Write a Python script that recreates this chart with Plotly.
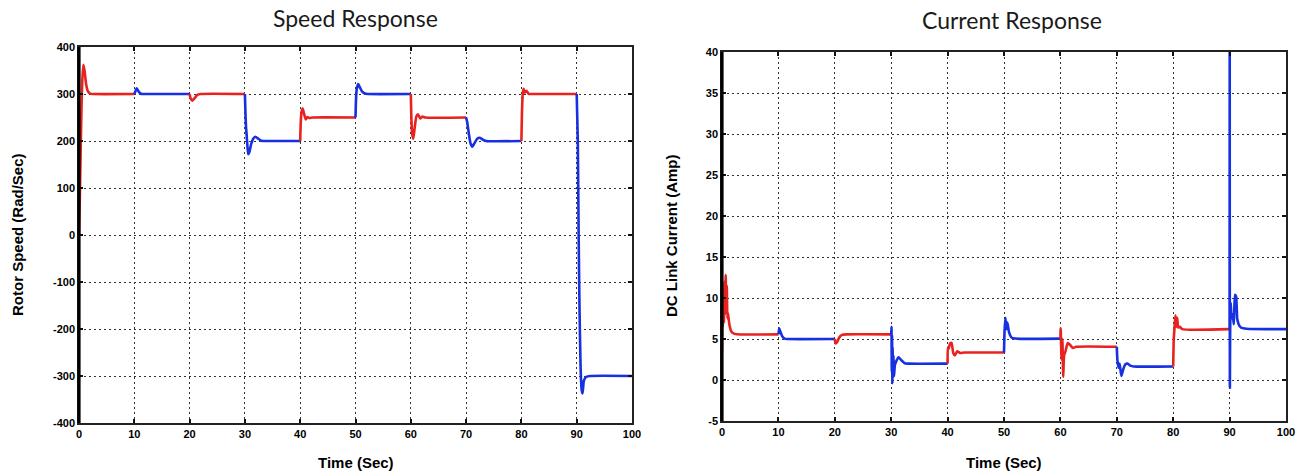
import plotly.graph_objects as go

# ---------------- data ----------------
segment_bounds = [0, 10, 20, 30, 40, 50, 60, 70, 80, 90, 100]
segment_colors = ["red", "blue", "red", "blue", "red", "blue", "red", "blue", "red", "blue"]

speed_time = [0, 0.15, 0.3, 0.45, 0.6, 0.8, 1.0, 1.3, 1.6, 2.0, 2.5, 10,
              10.2, 10.45, 10.8, 11.2, 11.6, 20,
              20.2, 20.5, 20.9, 21.4, 22, 30,
              30.1, 30.2, 30.3, 30.45, 30.6, 30.8, 31.1, 31.5, 31.9, 32.4, 33, 33.5, 40,
              40.1, 40.25, 40.45, 40.7, 41.0, 41.3, 41.7, 42.2, 50,
              50.1, 50.25, 50.5, 50.8, 51.2, 51.7, 52.2, 60,
              60.1, 60.25, 60.45, 60.7, 61.0, 61.3, 61.7, 62.1, 62.6, 70,
              70.2, 70.5, 70.8, 71.1, 71.5, 72.0, 72.5, 73.0, 73.6, 80,
              80.1, 80.25, 80.4, 80.6, 80.9, 81.3, 81.8, 90,
              90.2, 90.35, 90.5, 90.7, 90.9, 91.05, 91.3, 91.7, 92.5, 100]
speed_value = [0, 80, 180, 270, 330, 362, 350, 320, 306, 301, 300, 300,
               306, 312, 305, 300.5, 300, 300,
               290, 286, 291, 298, 300, 300,
               260, 230, 215, 190, 172, 176, 192, 205, 209, 205, 200.5, 200, 200,
               240, 262, 269, 258, 246, 251, 249, 250, 250,
               290, 312, 321, 314, 305, 301, 300, 300,
               250, 215, 205, 228, 252, 257, 248, 252, 250, 250,
               240, 215, 195, 188, 195, 205, 207, 203, 200, 200,
               260, 300, 311, 303, 307, 300.5, 300, 300,
               200, 0, -150, -280, -330, -337, -310, -302, -300, -300]

current_time = [0, 0.05, 0.15, 0.25, 0.35, 0.45, 0.55, 0.65, 0.75, 0.85, 0.95, 1.05, 1.3, 1.6, 2.0, 2.6, 10,
                10.15, 10.4, 10.7, 11.1, 11.5, 20,
                20.15, 20.4, 20.8, 21.3, 22, 30,
                30.05, 30.1, 30.15, 30.2, 30.25, 30.3, 30.4, 30.5, 30.65, 30.9, 31.3, 31.8, 32.4, 33, 40,
                40.05, 40.2, 40.4, 40.7, 41.0, 41.3, 41.7, 42.2, 43, 50,
                50.1, 50.25, 50.4, 50.6, 50.9, 51.3, 52, 60,
                60.05, 60.2, 60.35, 60.5, 60.65, 60.9, 61.3, 61.7, 62.2, 62.8, 70,
                70.1, 70.3, 70.5, 70.8, 71.1, 71.5, 71.9, 72.4, 73, 80,
                80.1, 80.25, 80.4, 80.55, 80.7, 80.9, 81.2, 81.6, 90,
                90.02, 90.05, 90.1, 90.2, 90.35, 90.55, 90.75, 90.95, 91.15, 91.35, 91.6, 92.0, 93, 100]
current_value = [3.5, 10.5, 6.5, 11, 7, 12, 8, 12.8, 9, 11.5, 7.5, 8.2, 6.8, 6.0, 5.7, 5.57, 5.57,
                 6.3, 5.8, 5.3, 5.05, 5.0, 5.0,
                 4.45, 4.6, 5.2, 5.5, 5.57, 5.57,
                 6.5, 1.0, 5.5, -0.4, 4.0, 0.2, 3.0, 0.5, 1.8, 2.3, 2.77, 2.4, 2.05, 2.0, 2.0,
                 4.0, 3.8, 4.4, 4.55, 3.3, 3.0, 3.5, 3.3, 3.35, 3.35,
                 6.0, 7.6, 6.2, 7.0, 5.8, 5.2, 5.05, 5.05,
                 6.3, 2.5, 5.0, 0.4, 3.0, 3.5, 4.5, 4.3, 3.9, 4.05, 4.05,
                 2.5, 1.5, 2.0, 0.5, 1.2, 1.9, 2.0, 1.75, 1.65, 1.65,
                 5.0, 6.5, 7.9, 6.5, 7.6, 6.4, 6.5, 6.2, 6.2,
                 45, -0.9, 6.0, 9.4, 7.5, 8.0, 6.8, 10.4, 10.2, 7.5, 6.8, 6.4, 6.25, 6.2]

speed_yticks = [400, 300, 200, 100, 0, -100, -200, -300, -400]
speed_ytick_labels = ["400", "300", "200", "100", "0", "-100", "-200", "-300", "-400"]
current_yticks = [40, 35, 30, 25, 20, 15, 10, 5, 0, -5]
current_ytick_labels = ["40", "35", "30", "25", "20", "15", "10", "5", "0", "-5"]
time_ticks = [0, 10, 20, 30, 40, 50, 60, 70, 80, 90, 100]

COLORS = {"red": "#e8231f", "blue": "#1630e2"}

fig = go.Figure()


def add_series(times, values, xa, ya):
    for i, col in enumerate(segment_colors):
        a, b = segment_bounds[i], segment_bounds[i + 1]
        xs = [t for t in times if a <= t <= b]
        ys = [v for t, v in zip(times, values) if a <= t <= b]
        fig.add_trace(go.Scatter(x=xs, y=ys, mode="lines", xaxis=xa, yaxis=ya,
                                 line=dict(color=COLORS[col], width=2.6, shape="spline", smoothing=0.5),
                                 showlegend=False, hoverinfo="skip"))


add_series(speed_time, speed_value, "x", "y")
add_series(current_time, current_value, "x2", "y2")

W, H = 1310, 473
L1, R1, T1, B1 = 79, 632, 47, 423
L2, R2, T2, B2 = 722, 1286, 52, 421

tickfont = dict(family="Liberation Sans, Arial, sans-serif", size=11, color="black", weight="bold")
common = dict(showline=True, linecolor="#222", linewidth=1.5, mirror="ticks", ticks="inside",
              ticklen=4, tickwidth=1.5, tickcolor="#111", showgrid=True, gridcolor="#333",
              gridwidth=1, griddash="2px,3px", zeroline=False, tickfont=tickfont, automargin=False)

fig.update_layout(
    width=W, height=H, margin=dict(l=0, r=0, t=0, b=0, autoexpand=False),
    paper_bgcolor="white", plot_bgcolor="white",
    xaxis=dict(domain=[L1 / W, R1 / W], range=[0, 100], tickvals=time_ticks, anchor="y", **common),
    yaxis=dict(domain=[1 - B1 / H, 1 - T1 / H], range=[-400, 400], tickvals=speed_yticks,
               ticktext=speed_ytick_labels, anchor="x", **common),
    xaxis2=dict(domain=[L2 / W, R2 / W], range=[0, 100], tickvals=time_ticks, anchor="y2", **common),
    yaxis2=dict(domain=[1 - B2 / H, 1 - T2 / H], range=[-5, 40], tickvals=current_yticks,
                ticktext=current_ytick_labels, anchor="x2", **common),
)

# thick left spines
for xr, yr in (("x domain", "y domain"), ("x2 domain", "y2 domain")):
    fig.add_shape(type="line", xref=xr, yref=yr, x0=0, x1=0, y0=0, y1=1,
                  line=dict(color="black", width=3.2), layer="above")

title_font = dict(family="Lato, Open Sans, sans-serif", size=23, color="#1a1a1a")
label_font = dict(family="Liberation Sans, Arial, sans-serif", size=15, color="black", weight="bold")

fig.add_annotation(text="Speed Response", x=(L1 + R1) / 2 / W, y=1 - 18 / H, xref="paper", yref="paper",
                   showarrow=False, font=title_font, xanchor="center", yanchor="middle")
fig.add_annotation(text="Current Response", x=(L2 + R2) / 2 / W + 0.006, y=1 - 20 / H, xref="paper", yref="paper",
                   showarrow=False, font=title_font, xanchor="center", yanchor="middle")
fig.add_annotation(text="Time (Sec)", x=(L1 + R1) / 2 / W, y=1 - 462 / H, xref="paper", yref="paper",
                   showarrow=False, font=label_font, xanchor="center", yanchor="middle")
fig.add_annotation(text="Time (Sec)", x=(L2 + R2) / 2 / W, y=1 - 462 / H, xref="paper", yref="paper",
                   showarrow=False, font=label_font, xanchor="center", yanchor="middle")
fig.add_annotation(text="Rotor Speed (Rad/Sec)", x=17 / W, y=1 - 235 / H, xref="paper", yref="paper",
                   showarrow=False, font=label_font, textangle=-90, xanchor="center", yanchor="middle")
fig.add_annotation(text="DC Link Current (Amp)", x=671 / W, y=1 - 236 / H, xref="paper", yref="paper",
                   showarrow=False, font=label_font, textangle=-90, xanchor="center", yanchor="middle")

fig.write_html("out.html", config={"displayModeBar": False},
               post_script="document.body.style.margin='0';document.body.style.overflow='hidden';")
